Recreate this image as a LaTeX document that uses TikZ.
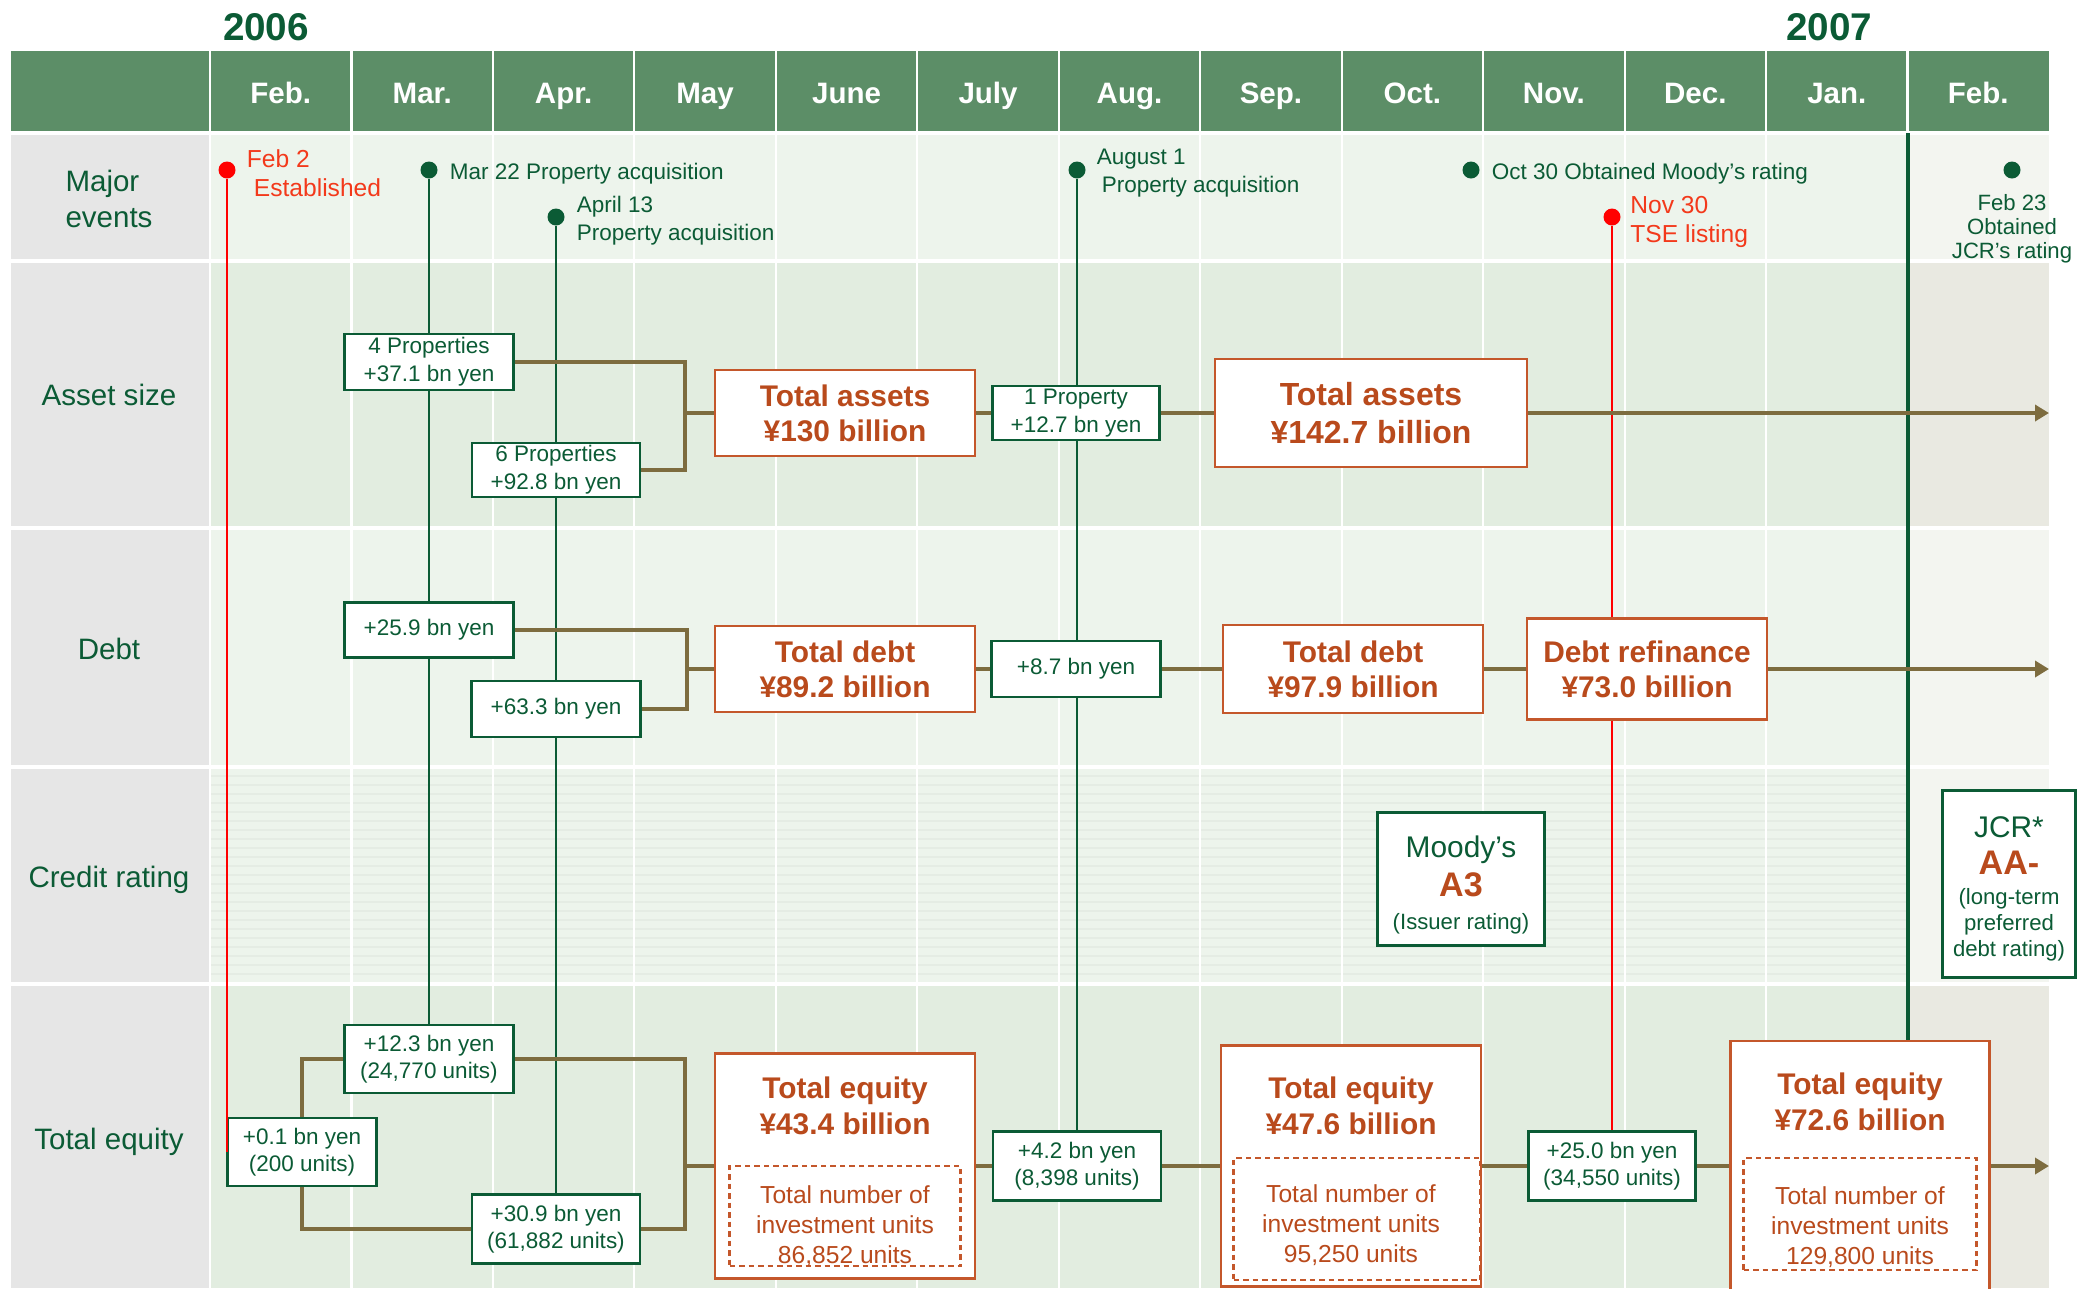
\documentclass[tikz,border=0pt]{standalone}
\usepackage{fontspec}
\setmainfont{Liberation Sans}
\usetikzlibrary{arrows.meta,positioning,backgrounds}

\definecolor{hdrgreen}{HTML}{5C8E67}
\definecolor{dkgreen}{HTML}{0B5B35}
\definecolor{rust}{HTML}{B94A1C}
\definecolor{rustline}{HTML}{C4572B}
\definecolor{bracketbrown}{HTML}{7D6C3F}
\definecolor{evred}{HTML}{FF0000}
\definecolor{redtxt}{HTML}{F3391B}
\definecolor{lblgray}{HTML}{E6E6E6}
\definecolor{rowlight}{HTML}{EDF4EC}
\definecolor{rowdark}{HTML}{E2EDE0}
\definecolor{lastlight}{HTML}{F3F5F0}
\definecolor{lastdark}{HTML}{E9E9E1}
\definecolor{stripegreen}{HTML}{E5ECE4}

\newcommand{\fsz}[2]{\fontsize{#1}{#2}\selectfont}

\tikzset{
  incbox/.style={draw=dkgreen, line width=0.65pt, fill=white, text=dkgreen, align=center, inner sep=0pt, font=\fsz{6.4}{7.9}},
  totbox/.style={draw=rustline, line width=0.8pt, fill=white, text=rust, align=center, inner sep=0pt, font=\bfseries\fsz{8.5}{10}},
  tottext/.style={text=rust, align=center, inner sep=0pt, font=\bfseries\fsz{8.5}{10.2}},
  unitbox/.style={draw=rustline, dash pattern=on 0.55mm off 0.4mm, line width=0.6pt},
  unittext/.style={text=rust, align=center, inner sep=0pt, font=\fsz{7}{8.6}},
  ratebox/.style={draw=dkgreen, line width=0.8pt, fill=white},
  ratetext/.style={text=dkgreen, align=center, inner sep=0pt},
  evdot/.style={circle, fill=dkgreen, inner sep=0pt, minimum size=1.7mm},
  reddot/.style={evdot, fill=evred},
  evtext/.style={text=dkgreen, align=left, inner sep=0pt, font=\fsz{6.4}{8}, yshift=-0.35mm},
  redtext/.style={text=redtxt, align=left, inner sep=0pt, font=\fsz{7}{8.4}, yshift=-0.3mm},
  evline/.style={draw=dkgreen, line width=0.65pt},
  redline/.style={draw=evred, line width=0.65pt},
  yearline/.style={draw=dkgreen, line width=1pt},
  bracket/.style={draw=bracketbrown, line width=1.1pt},
  flowarrow/.style={bracket, -{Triangle[length=1.4mm, width=1.6mm]}},
  rowlabel/.style={text=dkgreen, align=center, font=\fsz{8.4}{10.2}},
  monthlabel/.style={text=white, anchor=base, font=\bfseries\fsz{8.4}{10}},
  yearlabel/.style={text=dkgreen, font=\bfseries\fsz{11}{13}},
  gridline/.style={draw=white, line width=0.22mm},
  rowsep/.style={draw=white, line width=0.45mm},
  stripe/.style={draw=stripegreen, line width=0.12mm},
}

\begin{document}
\begin{tikzpicture}[x=0.1mm, y=-0.1mm]
\useasboundingbox (0,0) rectangle (2085,1288);

% table background
\begin{scope}[on background layer]
  \fill[hdrgreen] (11,51) rectangle (2049,133);
  \fill[lblgray] (11,133) rectangle (210,1288);
  \foreach \ytop/\ybot/\tint/\lasttint in {133/261/rowlight/lastlight, 261/528/rowdark/lastdark, 528/767/rowlight/lastlight, 767/984/rowlight/lastlight, 984/1288/rowdark/lastdark}{
    \fill[fill=\tint] (210,\ytop) rectangle (1908,\ybot);
    \fill[fill=\lasttint] (1908,\ytop) rectangle (2049,\ybot);
  }
  \foreach \y in {776,785,...,980} \draw[stripe] (210,\y) -- (1908,\y);
  \foreach \i in {0,...,12} \draw[gridline] ({210+141.46*\i},51) -- ({210+141.46*\i},1288);
  \foreach \y in {133,261,528,767,984} \draw[rowsep] (11,\y) -- (2049,\y);
\end{scope}

% years and months
\node[yearlabel] (y06) at (266,27) {2006};
\node[yearlabel] (y07) at (1829,27) {2007};
\foreach \mname [count=\i from 0] in {Feb.,Mar.,Apr.,May,June,July,Aug.,Sep.,Oct.,Nov.,Dec.,Jan.,Feb.}
  \node[monthlabel] (m\i) at ({210+141.46*(\i+0.5)},103) {\mname};

% row labels
\node[rowlabel, align=left] (rEvents) at (109,199) {Major\\events};
\node[rowlabel] (rAssets) at (109,395) {Asset size};
\node[rowlabel] (rDebt) at (109,649) {Debt};
\node[rowlabel] (rRating) at (109,880) {Credit rating};
\node[rowlabel] (rEquity) at (109,1142) {Total equity};

% major events
\node[reddot] (e1) at (227,170) {};
\node[redtext, right=1mm of e1] (e1t) {Feb 2\\\hspace*{0.7mm}Established};
\node[evdot] (e2) at (429,170) {};
\node[evtext, right=1.1mm of e2] (e2t) {Mar 22 Property acquisition};
\node[evdot] (e3) at (556,217) {};
\node[evtext, right=1.1mm of e3] (e3t) {April 13\\Property acquisition};
\node[evdot] (e4) at (1077,170) {};
\node[evtext, right=1mm of e4] (e4t) {August 1\\\hspace*{0.5mm}Property acquisition};
\node[evdot] (e5) at (1471,170) {};
\node[evtext, right=1.1mm of e5] (e5t) {Oct 30 Obtained Moody’s rating};
\node[reddot] (e6) at (1612,217) {};
\node[redtext, right=0.85mm of e6, yshift=-0.2mm] (e6t) {Nov 30\\TSE listing};
\node[evdot] (e7) at (2012,170) {};
\node[evtext, align=center, font=\fsz{6.3}{6.8}, yshift=0mm, below=1.1mm of e7] (e7t) {Feb 23\\Obtained\\JCR’s rating};

% asset size
\node[incbox, minimum width=16.9mm, minimum height=5.6mm] (a1) at (429,362) {4 Properties\\+37.1 bn yen};
\node[incbox, minimum width=16.8mm, minimum height=5.4mm] (a2) at (556,470) {6 Properties\\+92.8 bn yen};
\node[totbox, minimum width=26mm, minimum height=8.6mm] (a3) at (845,413) {Total assets\\¥130 billion};
\node[incbox, minimum width=16.7mm, minimum height=5.4mm] (a4) at (1076,413) {1 Property\\+12.7 bn yen};
\node[totbox, font=\bfseries\fsz{9.1}{11}, minimum width=31.2mm, minimum height=10.8mm] (a5) at (1371,413) {Total assets\\¥142.7 billion};
\coordinate (aj) at (685,413);
\coordinate (aend) at (2049,413);

% debt
\node[incbox, minimum width=16.9mm, minimum height=5.5mm] (d1) at (429,630) {+25.9 bn yen};
\node[incbox, minimum width=16.9mm, minimum height=5.6mm] (d2) at (556,709) {+63.3 bn yen};
\node[totbox, minimum width=26mm, minimum height=8.6mm] (d3) at (845,669) {Total debt\\¥89.2 billion};
\node[incbox, minimum width=16.9mm, minimum height=5.6mm] (d4) at (1076,669) {+8.7 bn yen};
\node[totbox, minimum width=26mm, minimum height=8.8mm] (d5) at (1353,669) {Total debt\\¥97.9 billion};
\node[totbox, minimum width=24mm, minimum height=10.1mm] (d6) at (1647,669) {Debt refinance\\¥73.0 billion};
\coordinate (dj) at (687,669);
\coordinate (dend) at (2049,669);

% credit rating
\node[ratebox, minimum width=16.7mm, minimum height=13.3mm] (c1) at (1461,879) {};
\node[ratetext, font=\fsz{8.5}{10.5}] (c1t) at (1461,885)
  {Moody’s\\[0.4pt]{\color{rust}\bfseries\fsz{9.7}{11}A3}\\[-1.1pt]{\fsz{6.3}{7.6}(Issuer rating)}};
\node[ratebox, minimum width=13.3mm, minimum height=18.7mm] (c2) at (2009,884) {};
\node[ratetext, font=\fsz{6.3}{7.5}] (c2t) at (2009,889)
  {{\fsz{8.5}{10}JCR*}\\[2.9pt]{\color{rust}\bfseries\fsz{9.7}{11}AA-}\\[1pt](long-term\\preferred\\debt rating)};

% total equity
\node[incbox, font=\fsz{6.4}{7.7}, minimum width=16.9mm, minimum height=6.8mm] (q1) at (429,1059) {+12.3 bn yen\\(24,770 units)};
\node[incbox, font=\fsz{6.4}{7.7}, minimum width=14.9mm, minimum height=6.8mm] (q0) at (302,1152) {+0.1 bn yen\\(200 units)};
\node[incbox, font=\fsz{6.4}{7.7}, minimum width=16.8mm, minimum height=6.9mm] (q2) at (556,1229) {+30.9 bn yen\\(61,882 units)};
\node[totbox, minimum width=26mm, minimum height=22.5mm] (q3) at (845,1166) {};
\node[tottext] (q3t) at (845,1106) {Total equity\\¥43.4 billion};
\node[unitbox, minimum width=23.1mm, minimum height=10mm] (q3u) at (845,1216) {};
\node[unittext] (q3n) at (845,1226) {Total number of\\investment units\\86,852 units};
\node[incbox, font=\fsz{6.4}{7.7}, minimum width=16.8mm, minimum height=6.9mm] (q4) at (1077,1166) {+4.2 bn yen\\(8,398 units)};
\node[totbox, minimum width=26mm, minimum height=24.1mm] (q5) at (1351,1166) {};
\node[tottext] (q5t) at (1351,1106) {Total equity\\¥47.6 billion};
\node[unitbox, minimum width=24.7mm, minimum height=12.2mm] (q5u) at (1357,1219) {};
\node[unittext] (q5n) at (1351,1225) {Total number of\\investment units\\95,250 units};
\node[incbox, font=\fsz{6.4}{7.7}, minimum width=16.7mm, minimum height=6.9mm] (q6) at (1612,1166) {+25.0 bn yen\\(34,550 units)};
\node[totbox, minimum width=25.9mm, minimum height=25mm] (q7) at (1860,1166) {};
\node[tottext] (q7t) at (1860,1102) {Total equity\\¥72.6 billion};
\node[unitbox, minimum width=23.3mm, minimum height=11.2mm] (q7u) at (1860,1214) {};
\node[unittext] (q7n) at (1860,1227) {Total number of\\investment units\\129,800 units};
\coordinate (qj) at (685,1166);
\coordinate (qend) at (2049,1166);

% connectors
\begin{scope}[on background layer]
  \draw[evline] (e2) -- (q1.north);
  \draw[evline] (e3) -- (q2.north);
  \draw[evline] (e4) -- (e4 |- q4.north);
  \draw[redline] (e6) -- (q6.north);
  \coordinate (jf) at (1908,133);
  \draw[yearline] (jf) -- (jf |- q7.north);

  \draw[bracket] (a1.east) -| (aj) |- (a2.east);
  \draw[bracket] (aj) -- (a3.west);
  \draw[bracket] (a3.east) -- (a4.west);
  \draw[bracket] (a4.east) -- (a5.west);
  \draw[flowarrow] (a5.east) -- (aend);

  \draw[bracket] (d1.east) -| (dj) |- (d2.east);
  \draw[bracket] (dj) -- (d3.west);
  \draw[bracket] (d3.east) -- (d4.west);
  \draw[bracket] (d4.east) -- (d5.west);
  \draw[bracket] (d5.east) -- (d6.west);
  \draw[flowarrow] (d6.east) -- (dend);

  \draw[bracket] (q1.west) -| (q0.north);
  \draw[bracket] (q0.south) |- (q2.west);
  \draw[bracket] (q1.east) -| (qj) |- (q2.east);
  \draw[bracket] (qj) -- (q3.west);
  \draw[bracket] (q3.east) -- (q4.west);
  \draw[bracket] (q4.east) -- (q5.west);
  \draw[bracket] (q5.east) -- (q6.west);
  \draw[bracket] (q6.east) -- (q7.west);
  \draw[flowarrow] (q7.east) -- (qend);
\end{scope}
\draw[redline] (e1) -- (e1 |- q0.west);

\end{tikzpicture}
\end{document}
